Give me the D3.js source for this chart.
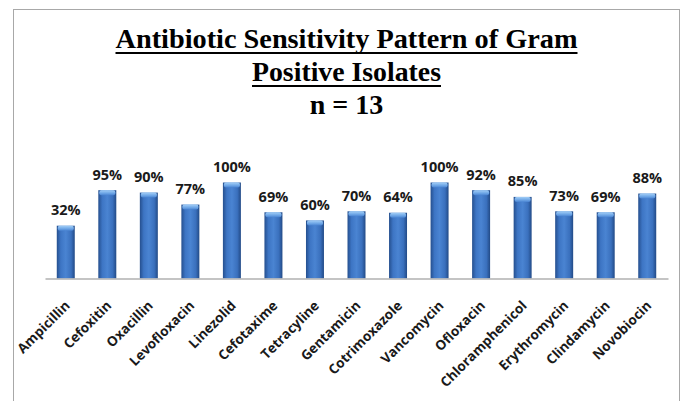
<!DOCTYPE html>
<html>
<head>
<meta charset="utf-8">
<script src="https://cdn.jsdelivr.net/npm/d3@7"></script>
<style>
  html, body { margin: 0; padding: 0; background: #fff; }
  svg { display: block; }
</style>
</head>
<body>
<script>
// antibiotics on the x axis
const drugs = ["Ampicillin", "Cefoxitin", "Oxacillin", "Levofloxacin", "Linezolid",
  "Cefotaxime", "Tetracyline", "Gentamicin", "Cotrimoxazole", "Vancomycin",
  "Ofloxacin", "Chloramphenicol", "Erythromycin", "Clindamycin", "Novobiocin"];
// % printed above each bar
const sensitivity = [32, 95, 90, 77, 100, 69, 60, 70, 64, 100, 92, 85, 73, 69, 88];
// bar heights as drawn in the picture (they don't always agree with the printed %)
const barHeights = [55, 92, 89.5, 77, 100, 69, 60.5, 70, 68.5, 100, 92, 85, 70, 69, 88.5];
const titleLines = ["Antibiotic Sensitivity Pattern of Gram", "Positive Isolates", "n = 13"];

const width = 681, height = 401;
const base = 278.5;

const svg = d3.select("body").append("svg")
  .attr("width", width)
  .attr("height", height);

// frame
svg.append("rect")
  .attr("x", 13.5).attr("y", 9.5)
  .attr("width", 666).attr("height", 400)
  .attr("fill", "#fff")
  .attr("stroke", "#a8a8a8");

const defs = svg.append("defs");
const body = defs.append("linearGradient").attr("id", "barBody")
  .attr("x1", 0).attr("x2", 1).attr("y1", 0).attr("y2", 0);
[[0, "#254f8e"], [0.22, "#3d75c4"], [0.5, "#4a84d2"], [0.8, "#3a70bd"], [1, "#224a86"]]
  .forEach(s => body.append("stop").attr("offset", s[0]).attr("stop-color", s[1]));
const cap = defs.append("linearGradient").attr("id", "barCap")
  .attr("x1", 0).attr("x2", 0).attr("y1", 0).attr("y2", 1);
[[0, "#a3cff7"], [0.6, "#6ea6e6"], [1, "#4a84d2"]]
  .forEach(s => cap.append("stop").attr("offset", s[0]).attr("stop-color", s[1]));

// title
const tx = 346.5;
const titleY = [47.5, 80.5, 113.5];
const titleW = [462, 189, null];
titleLines.forEach((t, i) => {
  const el = svg.append("text")
    .attr("x", tx).attr("y", titleY[i])
    .attr("text-anchor", "middle")
    .style("font-family", "'Liberation Serif', 'Times New Roman', serif")
    .style("font-weight", "bold")
    .style("font-size", "28px")
    .attr("fill", "#000")
    .text(t);
  if (titleW[i]) {
    el.attr("textLength", titleW[i]).attr("lengthAdjust", "spacingAndGlyphs");
    svg.append("rect")
      .attr("x", tx - titleW[i] / 2).attr("y", titleY[i] + 4.5)
      .attr("width", titleW[i]).attr("height", 2)
      .attr("fill", "#000");
  }
});

const x = d3.scaleBand()
  .domain(drugs)
  .range([45, 668])
  .paddingInner(0.567)
  .paddingOuter(0.2835);

const y = d3.scaleLinear()
  .domain([0, 100])
  .range([base, 182.5]);

// bars
const bars = svg.append("g").selectAll("g")
  .data(drugs)
  .join("g");

bars.append("rect")
  .attr("x", d => x(d))
  .attr("y", (d, i) => y(barHeights[i]))
  .attr("width", x.bandwidth())
  .attr("height", (d, i) => base - y(barHeights[i]))
  .attr("fill", "url(#barBody)");

bars.append("rect")
  .attr("x", d => x(d) + 1)
  .attr("y", (d, i) => y(barHeights[i]))
  .attr("width", x.bandwidth() - 2)
  .attr("height", 5)
  .attr("rx", 2)
  .attr("fill", "url(#barCap)");

// value labels
bars.append("text")
  .attr("x", d => x(d) + x.bandwidth() / 2)
  .attr("y", (d, i) => y(barHeights[i]) - 10.5)
  .attr("text-anchor", "middle")
  .style("font-family", "'Open Sans', sans-serif")
  .style("font-weight", "bold")
  .style("font-size", "14.5px")
  .attr("fill", "#1a1a1a")
  .text((d, i) => sensitivity[i] + "%");

// x axis
const xAxis = svg.append("g")
  .attr("transform", `translate(0,${base})`)
  .call(d3.axisBottom(x).tickSize(0).tickSizeOuter(0));

xAxis.select(".domain").attr("stroke", "#b0b0b0").attr("stroke-width", 1.5);
xAxis.selectAll("text")
  .attr("y", 0).attr("dy", 0)
  .attr("transform", "translate(5,28) rotate(-45)")
  .style("text-anchor", "end")
  .style("font-family", "'Open Sans', sans-serif")
  .style("font-weight", "bold")
  .style("font-size", "13.5px")
  .attr("fill", "#1a1a1a");
</script>
</body>
</html>
